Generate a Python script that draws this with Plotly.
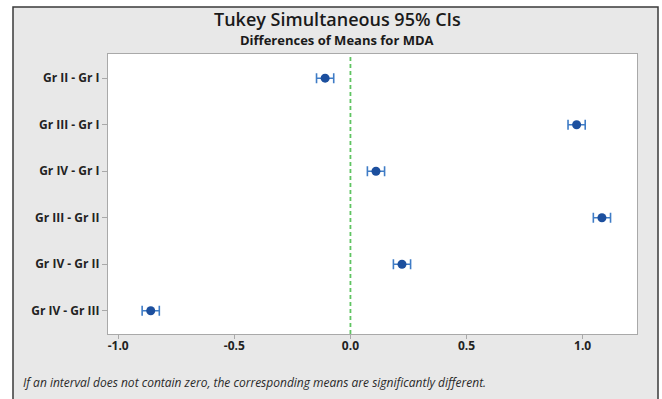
import plotly.graph_objects as go

comparisons = ["Gr II - Gr I", "Gr III - Gr I", "Gr IV - Gr I",
               "Gr III - Gr II", "Gr IV - Gr II", "Gr IV - Gr III"]
diff_means = [-0.109, 0.974, 0.110, 1.083, 0.222, -0.860]
ci_lower = [-0.146, 0.937, 0.073, 1.046, 0.185, -0.897]
ci_upper = [-0.072, 1.011, 0.147, 1.120, 0.259, -0.823]
x_ticks = [-1.0, -0.5, 0.0, 0.5, 1.0]
x_tick_labels = ["-1.0", "-0.5", "0.0", "0.5", "1.0"]

err_plus = [u - m for u, m in zip(ci_upper, diff_means)]
err_minus = [m - l for m, l in zip(diff_means, ci_lower)]

FONT = "Open Sans"
W, H = 662, 399
L, R, T, B = 108, 25, 54, 65
pw = W - L - R
ph = H - T - B

def px(x):
    return (x - L) / pw

def py(y):
    return (T + ph - y) / ph

fig = go.Figure()
fig.add_trace(go.Scatter(
    x=diff_means, y=comparisons, mode="markers",
    marker=dict(color="#1c4f9e", size=9),
    error_x=dict(type="data", symmetric=False, array=err_plus, arrayminus=err_minus,
                 color="#3f7cc6", thickness=1.6, width=5),
    showlegend=False, hoverinfo="x+y",
))

fig.add_vline(x=0, line=dict(color="#5fc462", width=1.8, dash="4px,3px"))

# grey frame panel
fig.add_shape(type="rect", xref="paper", yref="paper",
              x0=px(13), x1=px(658), y0=py(420), y1=py(7),
              fillcolor="#e8e8e8", line=dict(color="#3a3a3a", width=1.5),
              layer="below")
# white plotting area on top of the panel
fig.add_shape(type="rect", xref="paper", yref="paper",
              x0=0, x1=1, y0=0, y1=1,
              fillcolor="white", line=dict(width=0), layer="below")

fig.add_annotation(text="Tukey Simultaneous 95% CIs", xref="paper", yref="paper",
                   x=px(337), y=py(19), xanchor="center", yanchor="middle",
                   showarrow=False, font=dict(family=FONT, size=18, weight=600, color="#1a1a1a"))
fig.add_annotation(text="<b>Differences of Means for MDA</b>", xref="paper", yref="paper",
                   x=px(337), y=py(40), xanchor="center", yanchor="middle",
                   showarrow=False, font=dict(family=FONT, size=13, color="#1a1a1a"))
fig.add_annotation(text="<i>If an interval does not contain zero, the corresponding means are significantly different.</i>",
                   xref="paper", yref="paper", x=px(21), y=py(382),
                   xanchor="left", yanchor="middle", showarrow=False,
                   font=dict(family=FONT, size=12, color="#2a2a2a"))

fig.update_layout(
    width=W, height=H,
    margin=dict(l=L, r=R, t=T, b=B, pad=0),
    paper_bgcolor="white", plot_bgcolor="white",
    font=dict(family=FONT, color="#222222"),
    xaxis=dict(range=[-1.044, 1.234], tickvals=x_ticks, ticktext=[f"<b>{t}</b>" for t in x_tick_labels],
               showgrid=False, zeroline=False, showline=True, mirror=True,
               linecolor="#a9a9a9", linewidth=1.2, ticks="outside", ticklen=4,
               ticklabelstandoff=-4,
               tickcolor="#a9a9a9", tickfont=dict(size=12, color="#222222")),
    yaxis=dict(type="category", categoryorder="array", categoryarray=comparisons,
               range=[5.5, -0.52], showgrid=False, zeroline=False, showline=True, mirror=True,
               linecolor="#a9a9a9", linewidth=1.2, ticks="outside", ticklen=5,
               tickcolor="#a9a9a9", tickfont=dict(size=12, color="#222222"),
               tickvals=comparisons, ticktext=[f"<b>{c}</b>" for c in comparisons]),
)

fig.write_html("out.html", config={"displayModeBar": False},
               post_script="document.body.style.margin='0';document.body.style.overflow='hidden';")
